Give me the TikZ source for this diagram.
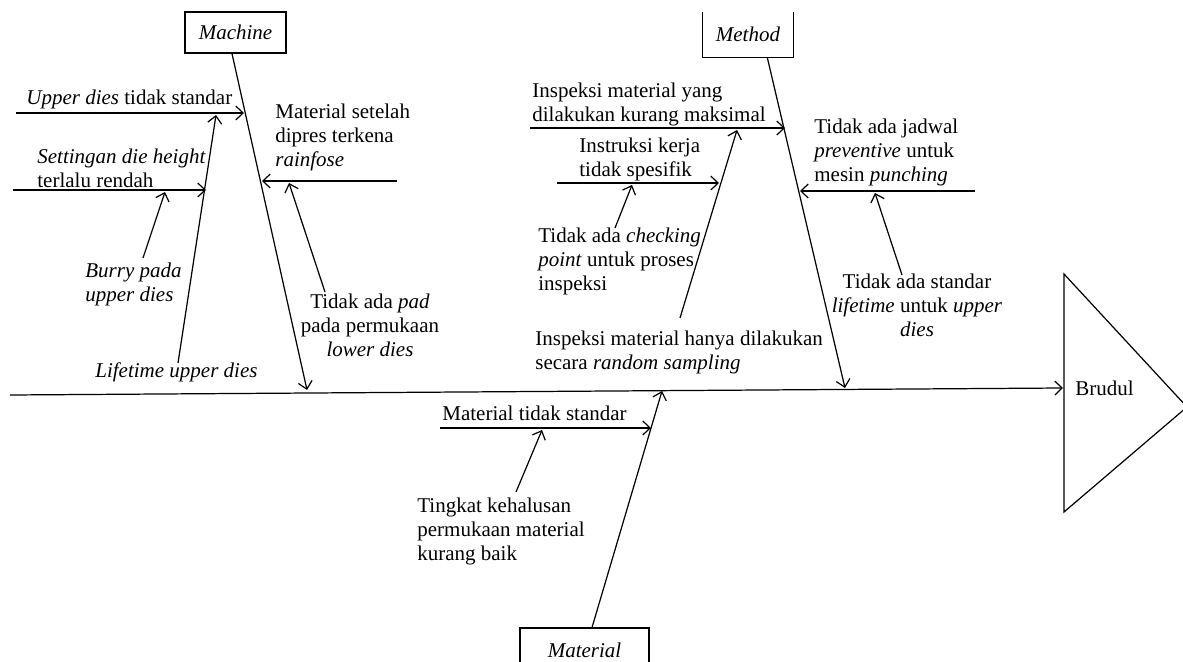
\documentclass[tikz,border=0pt]{standalone}
\usepackage{fontspec}
\setmainfont{Liberation Serif}
\usetikzlibrary{arrows.meta}

\tikzset{
  arr/.style={-{Straight Barb[length=4.2pt,width=8pt]}, line width=0.7pt},
  bone/.style={line width=0.7pt},
  lbl/.style={inner sep=0pt, font=\fontsize{12}{13.7}\selectfont},
  catbox/.style={inner sep=0pt, font=\fontsize{12}{13.7}\selectfont\itshape}
}

\begin{document}
\begin{tikzpicture}[x=0.5714pt, y=-0.5714pt]
\useasboundingbox (0,0) rectangle (1183,662);
\clip (0,0) rectangle (1183,662);

% ---------- category boxes ----------
\node[catbox, draw, line width=0.7pt, minimum width=57.7pt, minimum height=23.4pt] (mach) at (235.5,32.5) {Machine};
\node[catbox, minimum width=51.4pt, minimum height=25.7pt] (meth) at (748,34.5) {Method};
\draw[bone] (meth.north west) -- (meth.south west) -- (meth.south east) -- (meth.north east);
\node[catbox, draw, line width=0.7pt, minimum width=73.7pt, minimum height=25.1pt] (matl) at (584.5,650) {Material};

% ---------- head ----------
\coordinate (hdT) at (1064,274);
\coordinate (hdA) at (1187,407);
\coordinate (hdB) at (1064,512);
\draw[bone] (hdT) -- (hdA) -- (hdB) -- cycle;
\node[lbl, anchor=base west] (effect) at (1075,395) {Brudul};

% ---------- spine ----------
\coordinate (tail) at (10,395);
\coordinate (hdIn) at (1063,388);
\draw[arr] (tail) -- (hdIn);

% ---------- main bones ----------
\coordinate (machEnd) at (307,390);
\coordinate (methEnd) at (845,388);
\coordinate (matlEnd) at (662,391);
\draw[arr] ([xshift=-2pt]mach.south) -- (machEnd);
\draw[arr] ([xshift=11pt]meth.south) -- (methEnd);
\draw[arr] ([xshift=4.3pt]matl.north) -- (matlEnd);

% ---------- Machine ----------
\node[lbl, anchor=base west] (upd) at (26,105) {\textit{Upper dies} tidak standar};
\coordinate (updS) at (16,113);
\coordinate (updE) at (244,113);
\draw[arr] (updS) -- (updE);

\node[lbl, anchor=base west] (life) at (95,377) {\textit{Lifetime upper dies}};
\coordinate (lifeS) at (178,363);
\coordinate (lifeE) at (216,115);
\draw[arr] (lifeS) -- (lifeE);

\node[lbl, anchor=north west, align=left] (sett) at (37,149) {\textit{Settingan die height}\\terlalu rendah};
\coordinate (settS) at (13,190);
\coordinate (settE) at (206,190);
\draw[arr] (settS) -- (settE);

\node[lbl, anchor=north west, align=left] (burr) at (85,263) {\textit{Burry pada}\\\textit{upper dies}};
\coordinate (burrS) at (143,258);
\coordinate (burrE) at (165,192);
\draw[arr] (burrS) -- (burrE);

\node[lbl, anchor=north west, align=left] (rain) at (275,104) {Material setelah\\dipres terkena\\\textit{rainfose}};
\coordinate (rainS) at (397,181);
\coordinate (rainE) at (262,181);
\draw[arr] (rainS) -- (rainE);

\node[lbl, anchor=north, align=center] (pad) at (370,294) {Tidak ada \textit{pad}\\pada permukaan\\\textit{lower dies}};
\coordinate (padS) at (325,292);
\coordinate (padE) at (289,183);
\draw[arr] (padS) -- (padE);

% ---------- Method ----------
\node[lbl, anchor=north west, align=left] (insA) at (532,83) {Inspeksi material yang\\dilakukan kurang maksimal};
\coordinate (insAS) at (530,128);
\coordinate (insAE) at (785,128);
\draw[arr] (insAS) -- (insAE);

\node[lbl, anchor=north west, align=left] (insB) at (535,331) {Inspeksi material hanya dilakukan\\secara \textit{random sampling}};
\coordinate (insBS) at (680,318);
\coordinate (insBE) at (737,130);
\draw[arr] (insBS) -- (insBE);

\node[lbl, anchor=north west, align=left] (instr) at (579,138) {Instruksi kerja\\tidak spesifik};
\coordinate (instrS) at (557,183);
\coordinate (instrE) at (719,183);
\draw[arr] (instrS) -- (instrE);

\node[lbl, anchor=north west, align=left] (chk) at (538,228) {Tidak ada \textit{checking}\\\textit{point} untuk proses\\inspeksi};
\coordinate (chkS) at (615,228);
\coordinate (chkE) at (632,185);
\draw[arr] (chkS) -- (chkE);

\node[lbl, anchor=north west, align=left] (jad) at (814,119) {Tidak ada jadwal\\\textit{preventive} untuk\\mesin \textit{punching}};
\coordinate (jadS) at (975,191);
\coordinate (jadE) at (800,191);
\draw[arr] (jadS) -- (jadE);

\node[lbl, anchor=north, align=center] (std) at (917,274) {Tidak ada standar\\\textit{lifetime} untuk \textit{upper}\\\textit{dies}};
\coordinate (stdS) at (902,275);
\coordinate (stdE) at (875,193);
\draw[arr] (stdS) -- (stdE);

% ---------- Material ----------
\node[lbl, anchor=base west] (mts) at (442,420) {Material tidak standar};
\coordinate (mtsS) at (440,428);
\coordinate (mtsE) at (651,428);
\draw[arr] (mtsS) -- (mtsE);

\node[lbl, anchor=north west, align=left] (tkt) at (417,498) {Tingkat kehalusan\\permukaan material\\kurang baik};
\coordinate (tktS) at (516,492);
\coordinate (tktE) at (542,430);
\draw[arr] (tktS) -- (tktE);

\end{tikzpicture}
\end{document}
